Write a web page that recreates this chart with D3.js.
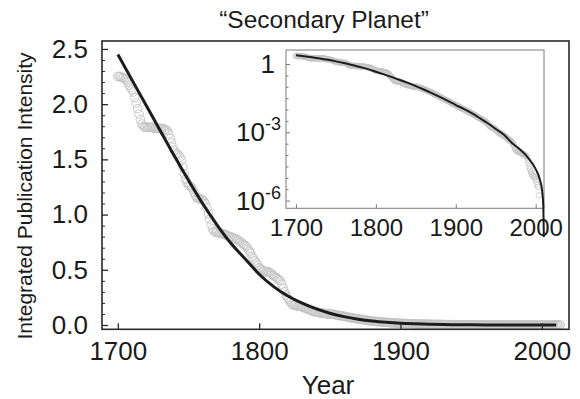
<!DOCTYPE html>
<html><head><meta charset="utf-8">
<script src="https://cdn.jsdelivr.net/npm/d3@7"></script>
<style>body{margin:0;background:#fff}svg{display:block;font-family:"Liberation Sans",Arial,sans-serif}</style>
</head><body><svg id="c" width="580" height="399"></svg>
<script>
// ---------- data ----------
const firstYear = 1700;
const intensity = [
2.25,2.25,2.25,2.24,2.24,2.23,2.22,2.20,2.17,2.15,
2.13,2.11,2.06,2.01,1.96,1.91,1.86,1.82,1.80,1.79,
1.79,1.79,1.79,1.79,1.79,1.79,1.78,1.78,1.78,1.78,
1.78,1.78,1.78,1.77,1.77,1.76,1.73,1.69,1.65,1.61,
1.58,1.56,1.55,1.54,1.52,1.49,1.43,1.37,1.32,1.29,
1.27,1.26,1.25,1.23,1.20,1.17,1.15,1.15,1.14,1.14,
1.13,1.12,1.10,1.06,1.01,0.96,0.91,0.87,0.85,0.84,
0.84,0.84,0.83,0.83,0.83,0.82,0.82,0.81,0.81,0.80,
0.80,0.79,0.79,0.78,0.78,0.77,0.76,0.75,0.74,0.73,
0.72,0.71,0.69,0.67,0.65,0.62,0.60,0.58,0.56,0.54,
0.52,0.51,0.50,0.49,0.49,0.48,0.48,0.48,0.47,0.46,
0.45,0.44,0.43,0.42,0.41,0.40,0.37,0.33,0.30,0.27,
0.25,0.23,0.21,0.19,0.18,0.18,0.18,0.17,0.17,0.17,
0.165,0.16,0.155,0.15,0.145,0.14,0.135,0.13,0.125,0.12,
0.118,0.115,0.113,0.111,0.109,0.107,0.105,0.103,0.100,0.097,
0.104,0.101,0.098,0.095,0.092,0.089,0.087,0.085,0.083,0.081,
0.079,0.077,0.074,0.071,0.068,0.066,0.063,0.061,0.059,0.057,
0.055,0.053,0.051,0.049,0.047,0.045,0.043,0.041,0.039,0.037,
0.036,0.034,0.033,0.032,0.030,0.029,0.028,0.027,0.026,0.025,
0.024,0.023,0.022,0.021,0.020,0.019,0.018,0.0175,0.0168,0.0161,
0.0155,0.0149,0.0143,0.0137,0.0131,0.0125,0.0120,0.0115,0.0111,0.0107,
0.0103,0.0099,0.0095,0.0091,0.0087,0.0083,0.0080,0.0077,0.0073,0.0070,
0.0067,0.0064,0.0061,0.0059,0.0056,0.0054,0.0051,0.0049,0.0046,0.0044,
0.0042,0.0040,0.0038,0.0036,0.0034,0.0033,0.0031,0.0029,0.0028,0.0026,
0.0024,0.0022,0.0020,0.0018,0.0017,0.0016,0.0016,0.0015,0.0015,0.0014,
0.0013,0.0012,0.0011,0.0010,0.00095,0.00090,0.00086,0.00082,0.00079,0.00076,
0.00072,0.00068,0.00064,0.00060,0.00056,0.00052,0.00049,0.00046,0.00044,0.00042,
0.00038,0.00034,0.00030,0.00025,0.00020,0.00017,0.00016,0.00015,0.00014,0.00014,
0.00013,0.00013,0.00012,0.00012,0.00011,0.00011,0.00010,0.000095,0.00009,0.000085,
0.000062,0.000045,0.000032,0.000024,0.000018,0.000015,0.000013,0.000012,0.000011,0.0000105,
0.0000085,0.0000066,0.0000050,0.0000040,0.0000017,0,0,0,0,0,
0,0,0,0
];
const fitYears  = [1700,1710,1720,1730,1740,1750,1760,1770,1780,1790,1800,1810,1820,1830,1840,1850,1860,1870,1880,1890,1900,1910,1920,1930,1940,1950,1960,1970,1980,1990,2000,2005,2008,2009.5,2010.2];
const fitValues = [2.45,2.22,1.99,1.76,1.53,1.31,1.10,0.91,0.74,0.60,0.46,0.35,0.265,0.20,0.148,0.107,0.076,0.053,0.036,0.024,0.0158,0.0107,0.0069,0.0042,0.0025,0.0014,0.0008,0.00035,0.00018,0.000079,0.000024,0.0000089,0.0000028,0.00000063,0.000000025];
const mainXTicks = [1700,1800,1900,2000];
const mainYTicks = [0,0.5,1.0,1.5,2.0,2.5];
const insetXTicks = [1700,1800,1900,2000];
const insetYTickExps = [0,-3,-6];
const titleText = "“Secondary Planet”";
const yTitle = "Integrated Publication Intensity";
const xTitle = "Year";

// ---------- build ----------
const data = intensity.map((v,i)=>({year:firstYear+i, v}));
const fit = fitYears.map((y,i)=>({year:y, v:fitValues[i]}));
const svg = d3.select("#c");

// main scales
const M = {l:102, r:569, t:41, b:329.3};
const x = d3.scaleLinear().domain([1688.8, 2019.2]).range([M.l, M.r]);
const y = d3.scaleLinear().domain([-0.0389, 2.5719]).range([M.b, M.t]);

// main data
svg.append("g").selectAll("circle").data(data).join("circle")
  .attr("cx", d=>x(d.year)).attr("cy", d=>y(d.v)).attr("r", 4.3)
  .attr("fill","none").attr("stroke","#c2c2c2").attr("stroke-width",0.9);
svg.append("path").datum(fit)
  .attr("d", d3.line().x(d=>x(d.year)).y(d=>y(d.v)).curve(d3.curveMonotoneX))
  .attr("fill","none").attr("stroke","#1c1c1c").attr("stroke-width",3);

// main frame
svg.append("rect").attr("x",M.l).attr("y",M.t).attr("width",M.r-M.l).attr("height",M.b-M.t)
  .attr("fill","none").attr("stroke","#2a2a2a").attr("stroke-width",1.6);

// main axes (ticks inward)
const gx = svg.append("g").attr("transform",`translate(0,${M.b})`)
  .call(d3.axisBottom(x).tickValues(mainXTicks).tickSize(-6).tickPadding(12).tickFormat(d3.format("d")));
gx.select(".domain").remove();
gx.selectAll("line").attr("stroke","#2a2a2a").attr("stroke-width",1.3);
gx.selectAll("text").attr("font-size",26).attr("fill","#1a1a1a").attr("font-family","Liberation Sans, Arial, sans-serif");

const minorY = d3.range(0, 26).map(i=>i/10).filter(v=>Math.abs(v*2-Math.round(v*2))>1e-6);
const gyMinor = svg.append("g").attr("transform",`translate(${M.l},0)`)
  .call(d3.axisLeft(y).tickValues(minorY).tickSize(-3).tickFormat(""));
gyMinor.select(".domain").remove();
gyMinor.selectAll("line").attr("stroke","#2a2a2a").attr("stroke-width",1);

const gy = svg.append("g").attr("transform",`translate(${M.l},0)`)
  .call(d3.axisLeft(y).tickValues(mainYTicks).tickSize(-6).tickPadding(14).tickFormat(d3.format(".1f")));
gy.select(".domain").remove();
gy.selectAll("line").attr("stroke","#2a2a2a").attr("stroke-width",1.3);
gy.selectAll("text").attr("font-size",26).attr("fill","#1a1a1a").attr("font-family","Liberation Sans, Arial, sans-serif");

// titles
svg.append("text").attr("x",324).attr("y",28).attr("text-anchor","middle")
  .attr("font-size",24.5).attr("fill","#1a1a1a").text(titleText);
svg.append("text").attr("x",328).attr("y",394).attr("text-anchor","middle")
  .attr("font-size",26).attr("fill","#1a1a1a").text(xTitle);
svg.append("text").attr("transform","translate(32,196) rotate(-90)").attr("text-anchor","middle")
  .attr("font-size",21).attr("fill","#1a1a1a").text(yTitle);

// ---------- inset ----------
const I = {l:286, r:544, t:50, b:208.3};
const xi = d3.scaleLinear().domain([1687.5, 2010.4]).range([I.l, I.r]);
const yi = d3.scaleLog().domain([Math.pow(10,0.617), Math.pow(10,-6.34)]).range([I.t, I.b]);

svg.append("rect").attr("x",I.l).attr("y",I.t).attr("width",I.r-I.l).attr("height",I.b-I.t)
  .attr("fill","#fff").attr("stroke","#7a7a7a").attr("stroke-width",1);

const insetData = data.filter(d=>d.v>0 && yi(d.v)<=I.b);
svg.append("g").selectAll("circle").data(insetData).join("circle")
  .attr("cx", d=>xi(d.year)).attr("cy", d=>yi(d.v)).attr("r", 2.8)
  .attr("fill","none").attr("stroke","#c4c4c4").attr("stroke-width",0.8);
svg.append("path").datum(fit)
  .attr("d", d3.line().x(d=>xi(d.year)).y(d=>yi(d.v)).curve(d3.curveMonotoneX))
  .attr("fill","none").attr("stroke","#1c1c1c").attr("stroke-width",2);

const gxi = svg.append("g").attr("transform",`translate(0,${I.b})`)
  .call(d3.axisBottom(xi).tickValues(insetXTicks).tickSize(-4).tickPadding(11).tickFormat(d3.format("d")));
gxi.select(".domain").remove();
gxi.selectAll("line").attr("stroke","#7a7a7a");
gxi.selectAll("text").attr("font-size",24).attr("fill","#1a1a1a").attr("font-family","Liberation Sans, Arial, sans-serif");

// inset y ticks: minor every half decade, major at labelled decades
const minorExp = d3.range(1, 13).map(i=>-i/2).filter(e=>!insetYTickExps.includes(e));
const gyiMinor = svg.append("g").attr("transform",`translate(${I.l},0)`)
  .call(d3.axisLeft(yi).tickValues(minorExp.map(e=>Math.pow(10,e))).tickSize(-2.5).tickFormat(""));
gyiMinor.select(".domain").remove();
gyiMinor.selectAll("line").attr("stroke","#7a7a7a");
const gyi = svg.append("g").attr("transform",`translate(${I.l},0)`)
  .call(d3.axisLeft(yi).tickValues(insetYTickExps.map(e=>Math.pow(10,e))).tickSize(-4).tickFormat(""));
gyi.select(".domain").remove();
gyi.selectAll("line").attr("stroke","#7a7a7a");
insetYTickExps.forEach(e=>{
  const t = svg.append("text").attr("x", e===0?275:281).attr("y", yi(Math.pow(10,e))+9)
    .attr("text-anchor","end").attr("font-size",26).attr("fill","#1a1a1a");
  if(e===0){ t.text("1"); }
  else { t.append("tspan").text("10"); t.append("tspan").attr("dy",-11).attr("font-size",18).text(String(e)); }
});
</script></body></html>
